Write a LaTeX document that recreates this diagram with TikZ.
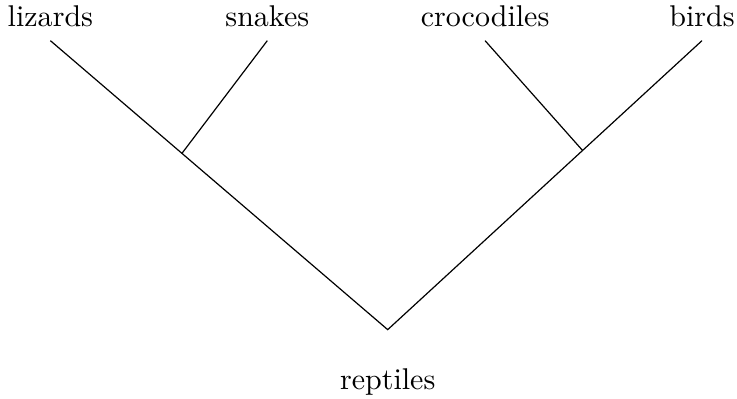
\documentclass[tikz,border=0pt]{standalone}
\usetikzlibrary{calc}
\begin{document}
\begin{tikzpicture}[taxon/.style={anchor=base, inner ysep=4.3pt}]
\useasboundingbox (0,0) rectangle (8.63,4.67);
% Leaves
\node[taxon] (lizards) at (0.59,4.356) {lizards};
\node[taxon] (snakes) at (3.13,4.356) {snakes};
\node[taxon] (crocodiles) at (5.68,4.356) {crocodiles};
\node[taxon] (birds) at (8.22,4.356) {birds};
% Root
\coordinate (root) at (4.54,0.81);
\node[anchor=base] (reptiles) at (4.54,0.105) {reptiles};
% Branches
\coordinate (squamata) at ($(lizards.south)!0.39!(root)$);
\coordinate (archosaurs) at ($(birds.south)!0.38!(root)$);
\draw (lizards.south) -- (root) -- (birds.south);
\draw (snakes.south) -- (squamata);
\draw (crocodiles.south) -- (archosaurs);
\end{tikzpicture}
\end{document}
